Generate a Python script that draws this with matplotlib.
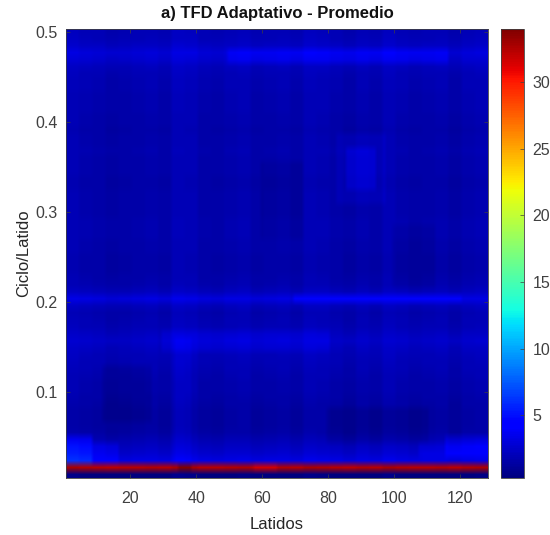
import matplotlib
matplotlib.use("Agg")
import matplotlib.pyplot as plt
import numpy as np

plt.rcParams["font.family"] = ["Liberation Sans", "DejaVu Sans"]

n_beats = 128
n_freq = 64

# mean level of each frequency row, k = 1..64 (f = k/128)
row_level = [
    0.3, 32.4, 3.2, 2.6, 2.2, 1.8, 1.4, 1.3,
    1.3, 1.3, 1.4, 1.5, 1.6, 1.6, 1.7, 1.8,
    1.9, 2.0, 2.2, 2.5, 2.2, 1.9, 1.8, 1.7,
    2.1, 3.1, 2.1, 1.7, 1.6, 1.5, 1.5, 1.5,
    1.6, 1.6, 1.7, 1.7, 1.7, 1.6, 1.6, 1.6,
    1.6, 1.5, 1.5, 1.6, 1.6, 1.6, 1.7, 1.6,
    1.6, 1.5, 1.6, 1.6, 1.7, 1.7, 1.7, 1.8,
    1.8, 1.9, 2.1, 2.6, 2.9, 2.3, 2.0, 1.9,
]

# offset of each group of 4 beats
beat_offset = [
    0.3, 0.1, 0.0, -0.2, -0.1, 0.0, 0.1, -0.1,
    0.4, 0.3, 0.0, -0.1, 0.1, 0.2, -0.1, 0.0,
    0.1, -0.1, 0.3, 0.2, 0.0, -0.2, 0.1, -0.1,
    0.3, 0.1, -0.1, 0.0, 0.1, -0.2, 0.1, 0.2,
]

# local deviations: (first beat, last beat, first row, last row, delta)
patches = [
    (1, 8, 3, 6, 1.6),
    (1, 16, 3, 5, 1.0),
    (116, 128, 4, 6, 1.0),
    (108, 128, 4, 5, 0.6),
    (70, 120, 26, 26, 1.2),
    (50, 116, 60, 61, 0.8),
    (86, 94, 42, 47, 0.8),
    (83, 97, 40, 49, 0.4),
    (30, 80, 19, 21, 0.5),
    (34, 38, 3, 20, 0.4),
    (35, 38, 2, 2, 1.2),
    (58, 64, 2, 2, -0.8),
    (12, 26, 9, 16, -0.4),
    (80, 110, 6, 10, -0.4),
    (60, 72, 35, 45, -0.3),
    (100, 112, 28, 36, -0.3),
]

tfd = np.array(row_level)[:, None] + np.repeat(beat_offset, 4)[None, :]
for b0, b1, k0, k1, d in patches:
    tfd[k0 - 1:k1, b0 - 1:b1] += d
tfd = np.clip(tfd, 0.3, None)

fig = plt.figure(figsize=(5.5, 5.35), dpi=100)
ax = fig.add_axes([0.12, 0.1065, 0.767, 0.8395])
cax = fig.add_axes([0.911, 0.1065, 0.042, 0.8395])

df = 0.5 / n_freq
im = ax.imshow(tfd, cmap="jet", origin="lower", aspect="auto",
               interpolation="bilinear", interpolation_stage="rgba",
               extent=[0.5, n_beats + 0.5, df / 2, 0.5 + df / 2],
               vmin=tfd.min(), vmax=tfd.max())

txt = "#262626"
ax.set_xticks([20, 40, 60, 80, 100, 120])
ax.set_yticks([0.1, 0.2, 0.3, 0.4, 0.5])
ax.set_yticklabels(["0.1", "0.2", "0.3", "0.4", "0.5"])
ax.tick_params(direction="in", length=3, width=0.5, colors="#404040",
               labelsize=11.5, top=True, right=True, pad=6)
ax.tick_params(axis="x", pad=9)
for sp in ax.spines.values():
    sp.set_color("#404040")
    sp.set_linewidth(0.6)
ax.set_xlabel("Latidos", fontsize=12, color=txt, labelpad=8)
ax.set_ylabel("Ciclo/Latido", fontsize=12, color=txt, labelpad=3)
ax.set_title("a) TFD Adaptativo - Promedio", fontsize=12, fontweight="bold",
             color="#111111", pad=8)

cb = fig.colorbar(im, cax=cax)
cb.set_ticks([5, 10, 15, 20, 25, 30])
cb.ax.tick_params(direction="in", length=3, width=0.5, colors="#404040",
                  labelsize=11.5, pad=6)
cb.outline.set_edgecolor("#404040")
cb.outline.set_linewidth(0.6)

fig.savefig("out.png", dpi=100)
